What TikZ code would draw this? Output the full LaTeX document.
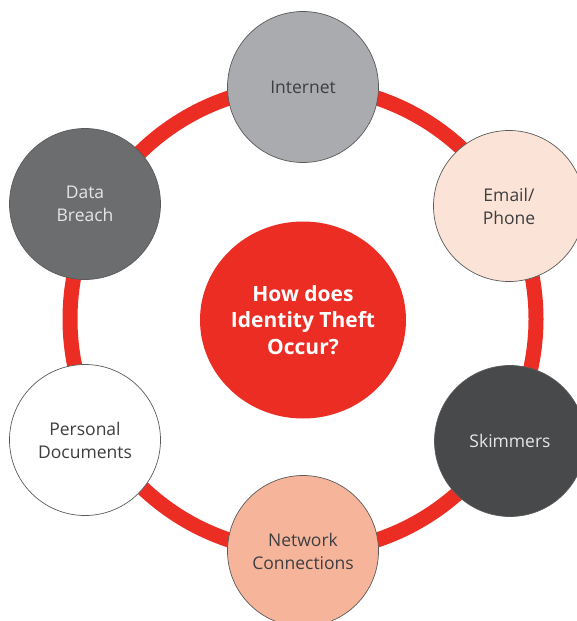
\documentclass[tikz,border=0pt]{standalone}
\usepackage{fontspec}
\setmainfont{Open Sans}
\usetikzlibrary{shapes.geometric}
\definecolor{ringred}{HTML}{EC2D24}
\definecolor{bordergray}{HTML}{5A5A5A}
\definecolor{lightgray}{HTML}{A9ABAE}
\definecolor{midgray}{HTML}{6C6D6F}
\definecolor{darkgray}{HTML}{48494B}
\definecolor{peachlight}{HTML}{FBE4D7}
\definecolor{salmon}{HTML}{F6B59B}
\definecolor{textdark}{HTML}{3E3E40}
\definecolor{textlight}{HTML}{E6E6E6}
\begin{document}
\begin{tikzpicture}[x=1pt,y=-1pt,
  item/.style={circle, draw=bordergray, line width=0.7pt, minimum size=151pt,
    inner sep=0pt, align=center, font=\fontsize{17.5}{23}\selectfont},
  hub/.style={ellipse, fill=ringred, minimum width=206pt, minimum height=197pt,
    inner sep=0pt, align=center, text=white,
    font=\fontsize{21}{26.5}\selectfont\bfseries},
  ring/.style={draw=ringred, line width=15pt}
]
\useasboundingbox (0,0) rectangle (577,621);
\clip (0,0) rectangle (577,621);
\fill[white] (0,0) rectangle (577,621);
\coordinate (c) at (303,319);
\draw[ring] (c) circle[radius=233pt];
\node[hub] (hub) at (303,320) {How does\\Identity Theft\\Occur?};
\node[item, fill=lightgray, text=textdark] (internet) at (303,87) {Internet};
\node[item, fill=midgray, text=textlight] (breach) at (85,204) {Data\\Breach};
\node[item, fill=peachlight, text=textdark] (email) at (509,206) {Email/\\Phone};
\node[item, fill=white, text=textdark] (personal) at (85,440) {Personal\\Documents};
\node[item, fill=darkgray, text=textlight] (skim) at (510,441) {Skimmers};
\node[item, fill=salmon, text=textdark] (network) at (303,551) {Network\\Connections};
\end{tikzpicture}
\end{document}
